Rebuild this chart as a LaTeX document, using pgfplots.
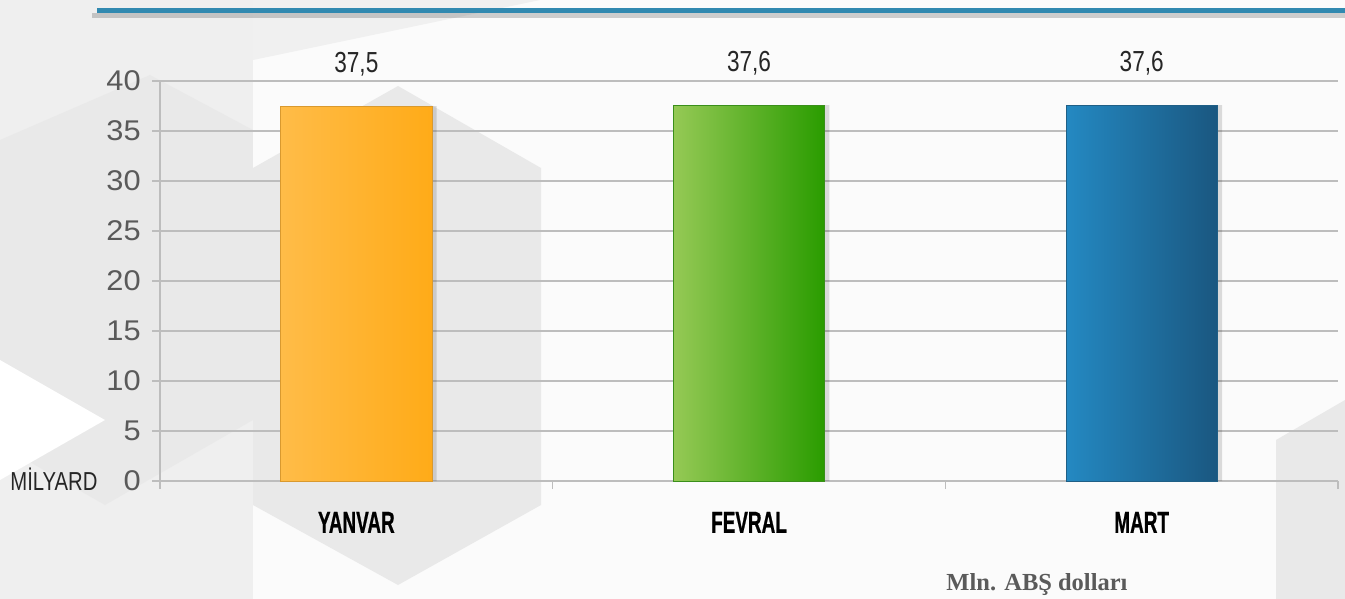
\documentclass[border=0pt]{standalone}
\usepackage{pgfplots}
\pgfplotsset{compat=1.18}
\usepackage{fontspec}
\setmainfont{Liberation Sans}
\newfontfamily\condfont[FakeStretch=0.78]{Liberation Sans}
\newfontfamily\tickfont[FakeStretch=1.08]{Liberation Sans}
\newfontfamily\boldcond[FakeStretch=0.62, BoldFeatures={FakeBold=0.6}]{Liberation Sans}
\newfontfamily\seriffont{Liberation Serif}
\definecolor{bgA}{HTML}{EFEFEF}
\definecolor{bgB}{HTML}{FBFBFB}
\definecolor{bgC}{HTML}{E9E9E9}
\definecolor{gridc}{HTML}{BDBDBD}
\definecolor{tickc}{HTML}{5A5A5A}
\definecolor{topblue}{HTML}{3189B0}
\definecolor{yelL}{HTML}{FFBC48}
\definecolor{yelR}{HTML}{FFAB18}
\definecolor{yelD}{HTML}{D9992E}
\definecolor{grnL}{HTML}{95C955}
\definecolor{grnR}{HTML}{2A9C00}
\definecolor{grnD}{HTML}{3A8F1A}
\definecolor{bluL}{HTML}{2489C2}
\definecolor{bluR}{HTML}{1A5780}
\definecolor{bluD}{HTML}{1F5F86}
\pgfplotsset{/pgf/number format/.cd, use comma, assume math mode=true}
\begin{document}
\begin{tikzpicture}
\begin{scope}[x=0.4pt,y=-0.4pt]
\path[use as bounding box] (0,0) rectangle (1345,599);
\fill[bgA] (0,0) rectangle (1345,599);
\fill[bgC] (0,140) -- (150,75) -- (253,130) -- (253,420) -- (105,505) -- (0,445) -- cycle;
\fill[white] (0,360) -- (105,420) -- (0,480) -- cycle;
\fill[bgB] (253,0) rectangle (1345,599);
\fill[bgC!60!bgB] (253,0) -- (540,0) -- (253,60) -- cycle;
\fill[bgC] (253,168) -- (398,86) -- (541,168) -- (541,505) -- (398,585) -- (253,505) -- cycle;
\fill[bgC] (1276,440) -- (1345,400) -- (1345,599) -- (1276,599) -- cycle;
\draw[black, opacity=0.18, line width=2pt] (92,16) -- (1345,16);
\draw[topblue, line width=2pt] (97,11) -- (1345,11);
\end{scope}
\begin{axis}[
  at={(64pt,-192.4pt)}, anchor=south west,
  scale only axis, width=471.2pt, height=160pt,
  xmin=-0.5, xmax=2.5, ymin=0, ymax=40,
  axis x line*=bottom, axis y line*=left,
  axis line style={gridc, line width=0.8pt},
  xtick={0,1,2}, xticklabels={YANVAR,FEVRAL,MART},
  minor xtick={-0.5,0.5,1.5,2.5},
  major x tick style={draw=none},
  minor x tick style={draw=gridc, line width=0.6pt},
  minor tick length=3.2pt,
  ytick={0,5,...,40},
  major tick length=3.2pt,
  tick align=outside,
  y tick style={draw=gridc, line width=1pt},
  ymajorgrids, grid style={gridc, line width=1pt},
  yticklabel style={font=\tickfont\fontsize{11.4}{13}\selectfont, text=tickc, xshift=-1pt},
  xticklabel style={font=\boldcond\bfseries\fontsize{12.2}{14}\selectfont, text=black, yshift=-5.6pt},
  clip=false,
  nodes near coords={\pgfmathprintnumber[fixed, fixed zerofill, precision=1]{\pgfplotspointmeta}},
  every node near coord/.append style={font=\condfont\fontsize{11.6}{13}\selectfont, text=black!85, anchor=base, inner sep=0pt, yshift=13.6pt},
]
\addplot[ybar, bar width=0.385, bar shift=0.012, fill=black, fill opacity=0.13, draw=none, forget plot, nodes near coords={}] coordinates {(0,37.5) (1,37.6) (2,37.6)};
\addplot[ybar, bar width=0.385, bar shift=0, left color=yelL, right color=yelR, draw=yelD, line width=0.3pt] coordinates {(0,37.5)};
\addplot[ybar, bar width=0.385, bar shift=0, left color=grnL, right color=grnR, draw=grnD, line width=0.3pt] coordinates {(1,37.6)};
\addplot[ybar, bar width=0.385, bar shift=0, left color=bluL, right color=bluR, draw=bluD, line width=0.3pt] coordinates {(2,37.6)};
\end{axis}
\begin{scope}[x=0.4pt,y=-0.4pt]
\node[font=\condfont\fontsize{10.4}{12}\selectfont, text=black!85, anchor=base east, inner sep=0pt] at (98,490) {MİLYARD};
\node[font=\seriffont\bfseries\fontsize{9.8}{11}\selectfont, text=tickc, anchor=base, inner sep=0pt] at (1037,590) {Mln. ABŞ dolları};
\end{scope}
\end{tikzpicture}
\end{document}
